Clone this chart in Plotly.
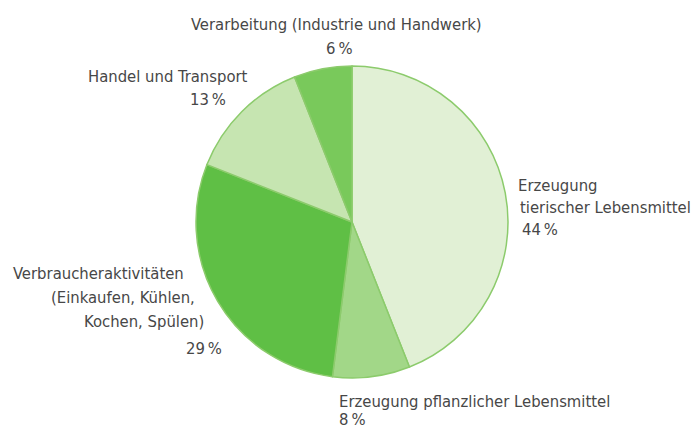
import plotly.graph_objects as go

# Data (clockwise from 12 o'clock)
categories = [
    "Erzeugung tierischer Lebensmittel",
    "Erzeugung pflanzlicher Lebensmittel",
    "Verbraucheraktivitäten (Einkaufen, Kühlen, Kochen, Spülen)",
    "Handel und Transport",
    "Verarbeitung (Industrie und Handwerk)",
]
shares = [44, 8, 29, 13, 6]
slice_colors = ["#e1f0d5", "#a2d788", "#5fbf45", "#c6e5b1", "#79c95b"]

W, H = 695, 430
FONT = "DejaVu Sans Condensed, Roboto, sans-serif"
TXT = "#474747"

def pct(v):
    return f"{v}\u2009%"

fig = go.Figure(go.Pie(
    labels=categories,
    values=shares,
    sort=False,
    direction="clockwise",
    rotation=0,
    textinfo="none",
    hoverinfo="label+percent",
    marker=dict(colors=slice_colors, line=dict(color="#8ccb6c", width=1.5)),
    domain=dict(x=[(352 - 156) / W, (352 + 156) / W],
                y=[1 - (222 + 158) / H, 1 - (222 - 158) / H]),
    showlegend=False,
))

# label lines: (text, x_px, y_px, anchor)
label_lines = [
    ("Verarbeitung (Industrie und Handwerk)", 336, 24, "center"),
    (pct(shares[4]), 339, 48, "center"),
    ("Handel und Transport", 250, 77, "right"),
    (pct(shares[3]), 228, 100, "right"),
    ("Erzeugung", 516, 185, "left"),
    ("tierischer Lebensmittel", 518, 207, "left"),
    (pct(shares[0]), 520, 229, "left"),
    ("Verbraucheraktivitäten", 186, 273, "right"),
    ("(Einkaufen, Kühlen,", 197, 297, "right"),
    ("Kochen, Spülen)", 206, 321, "right"),
    (pct(shares[2]), 224, 348, "right"),
    ("Erzeugung pflanzlicher Lebensmittel", 337, 401, "left"),
    (pct(shares[1]), 337, 419, "left"),
]

for text, xp, yp, anc in label_lines:
    fig.add_annotation(
        text=text, x=xp / W, y=1 - yp / H, xref="paper", yref="paper",
        xanchor=anc, yanchor="middle", showarrow=False,
        font=dict(family=FONT, size=16.5, color=TXT),
    )

fig.update_layout(
    width=W, height=H,
    margin=dict(l=0, r=0, t=0, b=0),
    paper_bgcolor="white",
    plot_bgcolor="white",
)

fig.write_html("out.html", config={"displayModeBar": False},
               post_script="document.body.style.margin='0px';")
